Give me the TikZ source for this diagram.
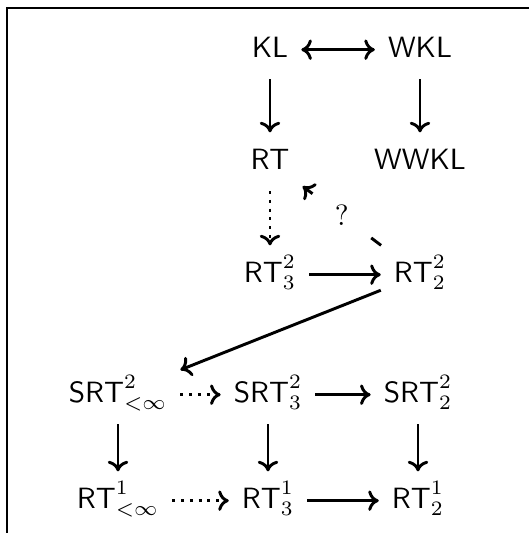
\documentclass[tikz,border=0pt]{standalone}
\usepackage{tikz}
\usetikzlibrary{arrows.meta}

\tikzset{
  cell/.style={anchor=base, inner xsep=4pt, inner ysep=3pt,
               text height=9pt, text depth=4pt},
  ask/.style={circle, fill=white, inner sep=0pt, minimum size=25pt}
}

\begin{document}
\begin{tikzpicture}[line width=1pt, x=0.341pt, y=-0.341pt,
    >={Computer Modern Rightarrow[length=3.6pt, width=7pt]}]
  \useasboundingbox (0,0) rectangle (529,533);
  \draw[line width=0.6pt] (7,533) -- (7,8) -- (529,8);

  \node[cell] (kl)      at (270,57)  {$\mathsf{KL}$};
  \node[cell] (wkl)     at (420,57)  {$\mathsf{WKL}$};
  \node[cell] (rt)      at (270,169) {$\mathsf{RT}$};
  \node[cell] (wwkl)    at (420,169) {$\mathsf{WWKL}$};
  \node[cell] (rt23)    at (270,282) {$\mathsf{RT}^2_3$};
  \node[cell] (rt22)    at (420,282) {$\mathsf{RT}^2_2$};
  \node[cell] (srt2inf) at (118,402) {$\mathsf{SRT}^2_{<\infty}$};
  \node[cell] (srt23)   at (268,402) {$\mathsf{SRT}^2_3$};
  \node[cell] (srt22)   at (418,402) {$\mathsf{SRT}^2_2$};
  \node[cell] (rt1inf)  at (118,508) {$\mathsf{RT}^1_{<\infty}$};
  \node[cell] (rt13)    at (268,508) {$\mathsf{RT}^1_3$};
  \node[cell] (rt12)    at (418,508) {$\mathsf{RT}^1_2$};

  \draw[<->] (kl) -- (wkl);
  \draw[->] (kl) -- (rt);
  \draw[->] (wkl) -- (wwkl);
  \draw[->, dotted] (rt) -- (rt23);
  \draw[->] (rt22) -- node[ask] {$?$} (rt);
  \draw[->] (rt23) -- (rt22);
  \draw[->] (rt22) -- (srt2inf);
  \draw[->, dotted] (srt2inf) -- (srt23);
  \draw[->] (srt23) -- (srt22);
  \draw[->] (srt2inf) -- (rt1inf);
  \draw[->] (srt23) -- (rt13);
  \draw[->] (srt22) -- (rt12);
  \draw[->, dotted] (rt1inf) -- (rt13);
  \draw[->] (rt13) -- (rt12);
\end{tikzpicture}
\end{document}
